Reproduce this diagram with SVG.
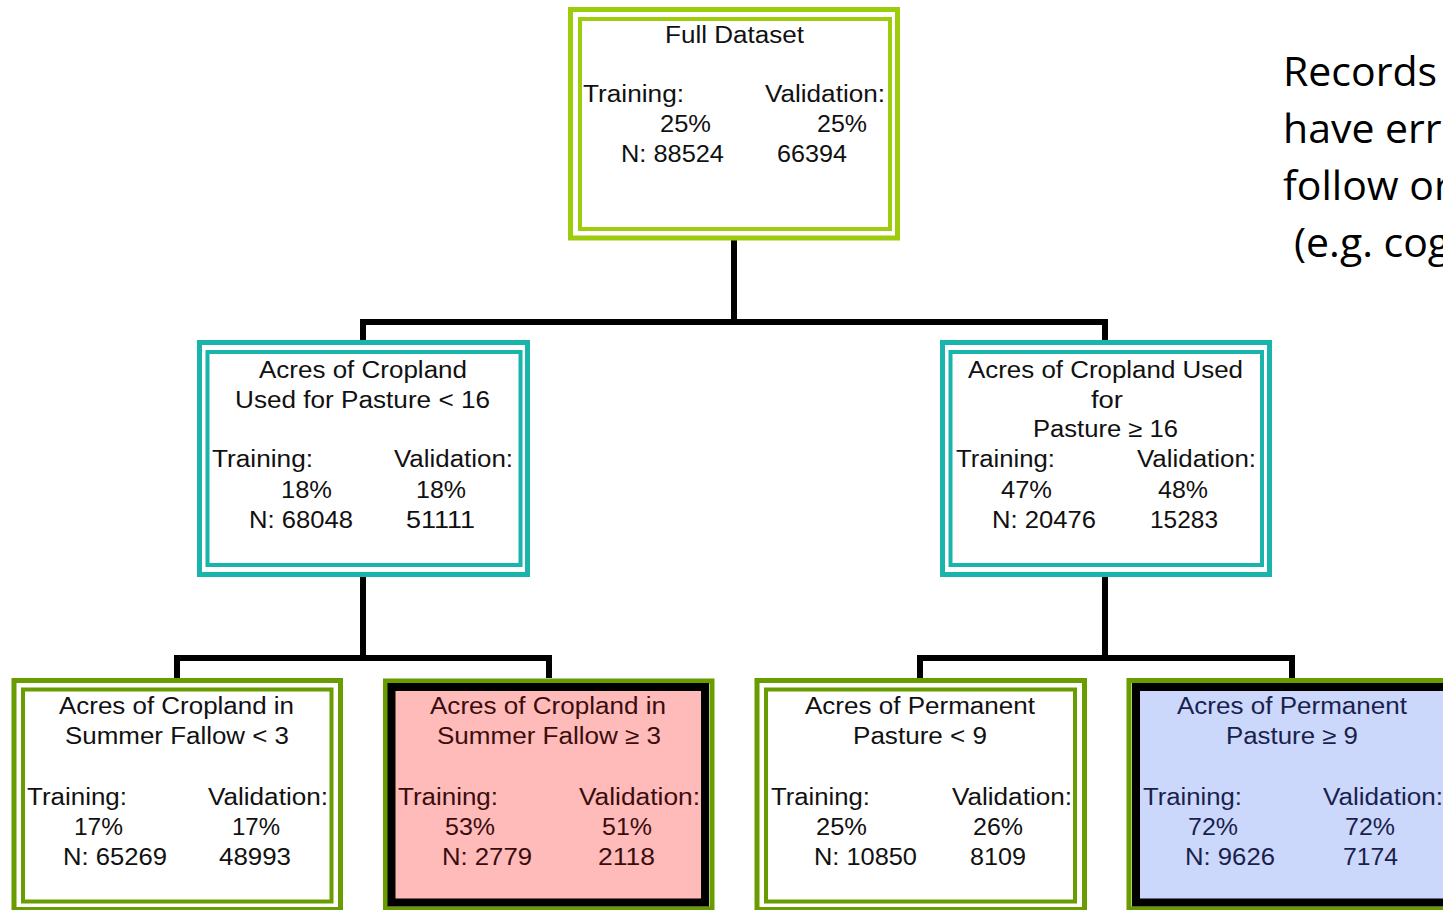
<svg xmlns="http://www.w3.org/2000/svg" width="1443" height="910" viewBox="0 0 1443 910">
<style>
.t{font-family:"Liberation Sans",Arial,sans-serif;font-size:23.5px;fill:#111}
.tp{fill:#3a0d0d}
.tb{fill:#1a1f4d}
.side{font-family:"Open Sans","Noto Sans",sans-serif;font-size:41px;fill:#000}
.yg{fill:none;stroke:#9ccc0c}
.tl{fill:none;stroke:#19b4ac}
.gr{fill:none;stroke:#689c00}
.conn{fill:none;stroke:#000;stroke-width:6;stroke-linejoin:miter}
</style>
<rect width="1443" height="910" fill="#fff"/>
<g id="connectors">
<path class="conn" d="M734,240 V322"/>
<path class="conn" d="M363,343 V322 H1105 V343"/>
<path class="conn" d="M363,577 V658"/>
<path class="conn" d="M177,678 V658 H549 V678"/>
<path class="conn" d="M1105,577 V658"/>
<path class="conn" d="M920,678 V658 H1292 V678"/>
</g>
<g id="full-dataset">
<rect class="yg" x="570.5" y="9.5" width="327" height="228.5" stroke-width="5"/>
<rect class="yg" x="580" y="19" width="310" height="210" stroke-width="4"/>
<text class="t" x="665" y="43" textLength="139" lengthAdjust="spacingAndGlyphs">Full Dataset</text>
<text class="t" x="583" y="102" textLength="101" lengthAdjust="spacingAndGlyphs">Training:</text>
<text class="t" x="765" y="102" textLength="120" lengthAdjust="spacingAndGlyphs">Validation:</text>
<text class="t" x="660" y="132" textLength="51" lengthAdjust="spacingAndGlyphs">25%</text>
<text class="t" x="817" y="132" textLength="50" lengthAdjust="spacingAndGlyphs">25%</text>
<text class="t" x="621" y="162" textLength="103" lengthAdjust="spacingAndGlyphs">N: 88524</text>
<text class="t" x="777" y="162" textLength="70" lengthAdjust="spacingAndGlyphs">66394</text>
</g>
<g id="pasture-lt-16">
<rect class="tl" x="199.5" y="342.5" width="328" height="232" stroke-width="5"/>
<rect class="tl" x="207.5" y="352" width="313" height="213" stroke-width="4"/>
<text class="t" x="259" y="378" textLength="208" lengthAdjust="spacingAndGlyphs">Acres of Cropland</text>
<text class="t" x="235" y="408" textLength="255" lengthAdjust="spacingAndGlyphs">Used for Pasture &lt; 16</text>
<text class="t" x="212" y="467" textLength="101" lengthAdjust="spacingAndGlyphs">Training:</text>
<text class="t" x="394" y="467" textLength="119" lengthAdjust="spacingAndGlyphs">Validation:</text>
<text class="t" x="281" y="498" textLength="51" lengthAdjust="spacingAndGlyphs">18%</text>
<text class="t" x="416" y="498" textLength="50" lengthAdjust="spacingAndGlyphs">18%</text>
<text class="t" x="249" y="528" textLength="104" lengthAdjust="spacingAndGlyphs">N: 68048</text>
<text class="t" x="406" y="528" textLength="69" lengthAdjust="spacingAndGlyphs">51111</text>
</g>
<g id="pasture-ge-16">
<rect class="tl" x="942.5" y="342.5" width="327" height="232" stroke-width="5"/>
<rect class="tl" x="950.5" y="352" width="311.5" height="213" stroke-width="4"/>
<text class="t" x="968" y="378" textLength="275" lengthAdjust="spacingAndGlyphs">Acres of Cropland Used</text>
<text class="t" x="1091" y="408" textLength="32" lengthAdjust="spacingAndGlyphs">for</text>
<text class="t" x="1033" y="437" textLength="145" lengthAdjust="spacingAndGlyphs">Pasture ≥ 16</text>
<text class="t" x="956" y="467" textLength="99" lengthAdjust="spacingAndGlyphs">Training:</text>
<text class="t" x="1137" y="467" textLength="119" lengthAdjust="spacingAndGlyphs">Validation:</text>
<text class="t" x="1001" y="498" textLength="51" lengthAdjust="spacingAndGlyphs">47%</text>
<text class="t" x="1158" y="498" textLength="50" lengthAdjust="spacingAndGlyphs">48%</text>
<text class="t" x="992" y="528" textLength="104" lengthAdjust="spacingAndGlyphs">N: 20476</text>
<text class="t" x="1150" y="528" textLength="68" lengthAdjust="spacingAndGlyphs">15283</text>
</g>
<g id="fallow-lt-3">
<rect class="gr" x="14" y="680.5" width="326.5" height="229" stroke-width="5"/>
<rect class="gr" x="23" y="689.5" width="308.5" height="212" stroke-width="4"/>
<text class="t" x="59" y="714" textLength="235" lengthAdjust="spacingAndGlyphs">Acres of Cropland in</text>
<text class="t" x="65" y="744" textLength="224" lengthAdjust="spacingAndGlyphs">Summer Fallow &lt; 3</text>
<text class="t" x="27" y="805" textLength="100" lengthAdjust="spacingAndGlyphs">Training:</text>
<text class="t" x="208" y="805" textLength="120" lengthAdjust="spacingAndGlyphs">Validation:</text>
<text class="t" x="74" y="835" textLength="49" lengthAdjust="spacingAndGlyphs">17%</text>
<text class="t" x="232" y="835" textLength="48" lengthAdjust="spacingAndGlyphs">17%</text>
<text class="t" x="63" y="865" textLength="104" lengthAdjust="spacingAndGlyphs">N: 65269</text>
<text class="t" x="219" y="865" textLength="72" lengthAdjust="spacingAndGlyphs">48993</text>
</g>
<g id="fallow-ge-3">
<rect class="gr" x="385.5" y="681" width="326.5" height="228" stroke-width="5"/>
<rect x="391.5" y="687" width="313.5" height="215.5" fill="#ffbaba" stroke="#000" stroke-width="8"/>
<text class="t tp" x="430" y="714" textLength="236" lengthAdjust="spacingAndGlyphs">Acres of Cropland in</text>
<text class="t tp" x="437" y="744" textLength="224" lengthAdjust="spacingAndGlyphs">Summer Fallow ≥ 3</text>
<text class="t tp" x="398" y="805" textLength="100" lengthAdjust="spacingAndGlyphs">Training:</text>
<text class="t tp" x="579" y="805" textLength="121" lengthAdjust="spacingAndGlyphs">Validation:</text>
<text class="t tp" x="445" y="835" textLength="50" lengthAdjust="spacingAndGlyphs">53%</text>
<text class="t tp" x="602" y="835" textLength="50" lengthAdjust="spacingAndGlyphs">51%</text>
<text class="t tp" x="442" y="865" textLength="90" lengthAdjust="spacingAndGlyphs">N: 2779</text>
<text class="t tp" x="598" y="865" textLength="57" lengthAdjust="spacingAndGlyphs">2118</text>
</g>
<g id="permanent-lt-9">
<rect class="gr" x="757" y="680.5" width="327.5" height="229" stroke-width="5"/>
<rect class="gr" x="766" y="689.5" width="309" height="212" stroke-width="4"/>
<text class="t" x="805" y="714" textLength="230" lengthAdjust="spacingAndGlyphs">Acres of Permanent</text>
<text class="t" x="853" y="744" textLength="134" lengthAdjust="spacingAndGlyphs">Pasture &lt; 9</text>
<text class="t" x="771" y="805" textLength="99" lengthAdjust="spacingAndGlyphs">Training:</text>
<text class="t" x="952" y="805" textLength="120" lengthAdjust="spacingAndGlyphs">Validation:</text>
<text class="t" x="816" y="835" textLength="51" lengthAdjust="spacingAndGlyphs">25%</text>
<text class="t" x="973" y="835" textLength="50" lengthAdjust="spacingAndGlyphs">26%</text>
<text class="t" x="814" y="865" textLength="103" lengthAdjust="spacingAndGlyphs">N: 10850</text>
<text class="t" x="970" y="865" textLength="56" lengthAdjust="spacingAndGlyphs">8109</text>
</g>
<g id="permanent-ge-9">
<rect class="gr" x="1129" y="680.5" width="327" height="228.5" stroke-width="5"/>
<rect x="1136" y="687" width="313" height="215.5" fill="#cbd8fb" stroke="#000" stroke-width="8"/>
<text class="t tb" x="1177" y="714" textLength="230" lengthAdjust="spacingAndGlyphs">Acres of Permanent</text>
<text class="t tb" x="1226" y="744" textLength="132" lengthAdjust="spacingAndGlyphs">Pasture ≥ 9</text>
<text class="t tb" x="1143" y="805" textLength="99" lengthAdjust="spacingAndGlyphs">Training:</text>
<text class="t tb" x="1323" y="805" textLength="120" lengthAdjust="spacingAndGlyphs">Validation:</text>
<text class="t tb" x="1188" y="835" textLength="50" lengthAdjust="spacingAndGlyphs">72%</text>
<text class="t tb" x="1345" y="835" textLength="50" lengthAdjust="spacingAndGlyphs">72%</text>
<text class="t tb" x="1185" y="865" textLength="90" lengthAdjust="spacingAndGlyphs">N: 9626</text>
<text class="t tb" x="1343" y="865" textLength="55" lengthAdjust="spacingAndGlyphs">7174</text>
</g>
<g id="side-text">
<text class="side" x="1283" y="86">Records</text>
<text class="side" x="1283" y="143">have err</text>
<text class="side" x="1283" y="200">follow or</text>
<text class="side" x="1294" y="257">(e.g. cog</text>
</g>
</svg>
